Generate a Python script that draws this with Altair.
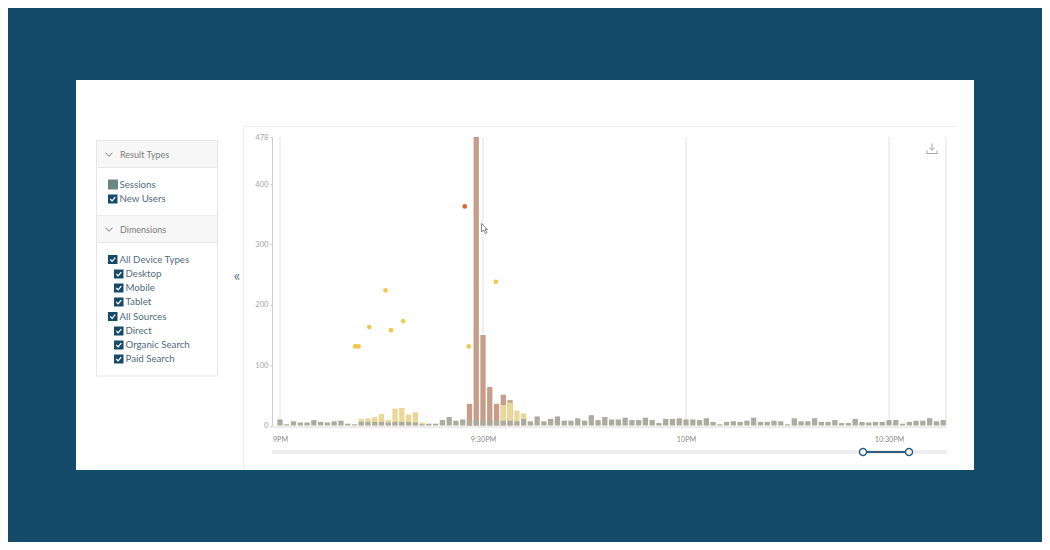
import altair as alt
import pandas as pd

# ---- chart values ----
sessions = [10, 2, 7, 5, 5, 9, 6, 5, 7, 8, 3, 2, 6, 6, 6, 6, 5, 6, 6, 6, 5, 2, 3, 3, 9, 14, 8, 10,
            8, 9, 8, 8, 8, 8, 8, 7, 11, 7, 15, 7, 11, 15, 8, 8, 12, 8, 17, 9, 14, 10, 10, 13, 9, 9,
            13, 9, 4, 11, 11, 12, 10, 10, 9, 12, 6, 2, 6, 7, 6, 8, 13, 6, 6, 8, 7, 2, 12, 7, 7, 12,
            6, 6, 9, 4, 4, 11, 6, 5, 6, 6, 9, 9, 3, 6, 8, 8, 12, 7, 9]
new_user_minutes = [12, 13, 14, 15, 16, 17, 18, 19, 20, 21, 33, 34, 35, 36]
new_user_values = [11, 12, 14, 19, 9, 28, 29, 18, 22, 5, 34, 38, 25, 20]
spike_minutes = [28, 29, 30, 31, 32, 33, 34]
spike_values = [36, 478, 150, 64, 36, 51, 42]
yellow_dot_minutes = [11.1, 11.6, 13.2, 15.6, 16.4, 18.2, 27.9, 31.9]
yellow_dot_values = [131, 131, 163, 224, 158, 173, 131, 238]
orange_dot_minutes = [27.3]
orange_dot_values = [363]
tick_minutes = [0, 30, 60, 90]
tick_labels = ["9PM", "9:30PM", "10PM", "10:30PM"]
y_ticks = [0, 100, 200, 300, 400, 478]

NAVY = "#154a6b"
FONT = "Lato"
W, H = 1034, 534
one = pd.DataFrame({"a": [0]})

# ---- page-pixel helpers for the dashboard chrome ----
def box(x0, y0, x1, y1, fill, stroke=None):
    kw = {"fill": fill}
    if stroke:
        kw.update(stroke=stroke, strokeWidth=1)
    return alt.Chart(one).mark_rect(**kw).encode(
        x=alt.value(x0 - 8), x2=alt.value(x1 - 8), y=alt.value(y0 - 8), y2=alt.value(y1 - 8))

def label(x, y, text, color="#4f6b80", size=9.7, align="left"):
    return alt.Chart(one).mark_text(text=text, font=FONT, fontSize=size, color=color,
                                    align=align, baseline="middle").encode(
        x=alt.value(x - 8), y=alt.value(y - 8))

def glyph(x, y, path, size, stroke, width=1.0, fill=None):
    kw = {"shape": path, "size": size, "stroke": stroke, "strokeWidth": width, "opacity": 1}
    if fill:
        kw.update(filled=True, fill=fill)
    else:
        kw.update(filled=False)
    return alt.Chart(one).mark_point(**kw).encode(x=alt.value(x - 8), y=alt.value(y - 8))

CHECK = "M-0.6,0 L-0.15,0.45 L0.6,-0.45"
CHEVRON = "M-1,-0.5 L0,0.5 L1,-0.5"

chrome = [
    box(76, 80, 974, 470, "#ffffff"),
    box(243, 126, 244, 470, "#eeeeee"),
    box(243, 126, 957, 127, "#eeeeee"),
    box(96.5, 140.5, 217.5, 376, "#ffffff", "#e6e6e6"),
    box(97, 141, 217, 167, "#f7f7f7"),
    box(97, 167, 217, 168, "#e9e9e9"),
    box(97, 215, 217, 216, "#ededed"),
    box(97, 216, 217, 242, "#f7f7f7"),
    box(97, 242, 217, 243, "#e9e9e9"),
    glyph(109, 154.5, CHEVRON, 50, "#777777"),
    glyph(109, 229.5, CHEVRON, 50, "#777777"),
    label(120, 154.5, "Result Types", "#7b7b7b", 9),
    label(120, 229.5, "Dimensions", "#7b7b7b", 9),
    box(108, 179.5, 118, 189.5, "#6c8783"),
    label(119.5, 184.5, "Sessions"),
    label(237, 276, "«", "#5f7a8c", 16, "center"),
]
items = [
    (108, 199, "New Users"), (108, 259.5, "All Device Types"), (114, 274, "Desktop"),
    (114, 288, "Mobile"), (114, 302, "Tablet"), (108, 316.5, "All Sources"),
    (114, 331, "Direct"), (114, 345, "Organic Search"), (114, 359, "Paid Search"),
]
for bx, cy, name in items:
    chrome += [
        box(bx, cy - 4.5, bx + 9.5, cy + 4.5, NAVY),
        glyph(bx + 4.75, cy, CHECK, 70, "#ffffff", 1.3),
        label(bx + 11.5, cy, name),
    ]

# ---- scales and axes of the plot ----
x_scale = alt.Scale(domain=[-1.182, 98.42], range=[264, 938], nice=False, zero=False, padding=0)
y_scale = alt.Scale(domain=[0, 478], range=[417.5, 129], nice=False, zero=False, padding=0)
label_expr = " : ".join(f"datum.value == {m} ? '{t}'" for m, t in zip(tick_minutes, tick_labels)) + " : ''"
x_axis = alt.Axis(values=tick_minutes, labelExpr=label_expr, title=None, grid=False, ticks=False,
                  domain=True, domainColor="#d8d8d8", domainWidth=1, orient="bottom",
                  offset=-(H - 418.5), labelPadding=9, labelFont=FONT, labelFontSize=7.2,
                  labelColor="#8a8a8a", labelFlush=False, labelOverlap=False, zindex=1)
y_axis = alt.Axis(values=y_ticks, title=None, grid=False, orient="left", offset=-264,
                  domainColor="#cccccc", domainWidth=1, tickColor="#cccccc", tickSize=2,
                  labelFont=FONT, labelFontSize=7.6, labelColor="#a6a6a6", labelPadding=2,
                  labelOverlap=False, zindex=1)

grid = pd.DataFrame({"m": tick_minutes + [98.42], "lo": 0, "hi": 478})
rules = alt.Chart(grid).mark_rule(color="#e2e2e2", strokeWidth=1).encode(
    x=alt.X("m:Q", scale=x_scale, axis=x_axis),
    y=alt.Y("lo:Q", scale=y_scale, axis=y_axis),
    y2="hi:Q",
)

def bars(minutes, values, color):
    df = pd.DataFrame({"m": minutes, "v": values})
    return alt.Chart(df).mark_bar(size=5.3, color=color, opacity=1).encode(
        x=alt.X("m:Q", scale=x_scale, axis=x_axis),
        y=alt.Y("v:Q", scale=y_scale, axis=y_axis),
    )

def dots(minutes, values, color):
    df = pd.DataFrame({"m": minutes, "v": values})
    return alt.Chart(df).mark_circle(size=22, color=color, opacity=1).encode(
        x=alt.X("m:Q", scale=x_scale, axis=x_axis),
        y=alt.Y("v:Q", scale=y_scale, axis=y_axis),
    )

plot = [
    rules,
    bars(spike_minutes, spike_values, "#c59d88"),
    bars(new_user_minutes, new_user_values, "#ebd798"),
    bars(list(range(len(sessions))), sessions, "#ababa0"),
    dots(yellow_dot_minutes, yellow_dot_values, "#f3c64f"),
    dots(orange_dot_minutes, orange_dot_values, "#d4682f"),
]

overlay = [
    glyph(932, 148.5, "M0,-1 L0,0.35 M-0.5,-0.15 L0,0.35 L0.5,-0.15 M-1,0.4 L-1,1 L1,1 L1,0.4", 100, "#9a9a9a", 0.9),
    glyph(484.5, 228.5, "M-0.6,-1 L-0.6,0.7 L-0.2,0.3 L0.2,1 L0.5,0.8 L0.1,0.2 L0.6,0.2 Z", 100, "#666666", 0.8, "#ffffff"),
    box(272, 450, 947, 454, "#eeeeee"),
    box(863, 451, 909, 453, "#2c5f80"),
    glyph(863, 452, "circle", 50, "#2c5f80", 1.4, "#ffffff"),
    glyph(909, 452, "circle", 50, "#2c5f80", 1.4, "#ffffff"),
]

chart = alt.layer(*chrome, *plot, *overlay).properties(
    width=W, height=H, padding=0,
    autosize=alt.AutoSizeParams(type="none"),
    background=NAVY,
).configure_view(stroke=None)

chart.save("out.html", embed_options={"renderer": "svg", "actions": False})
